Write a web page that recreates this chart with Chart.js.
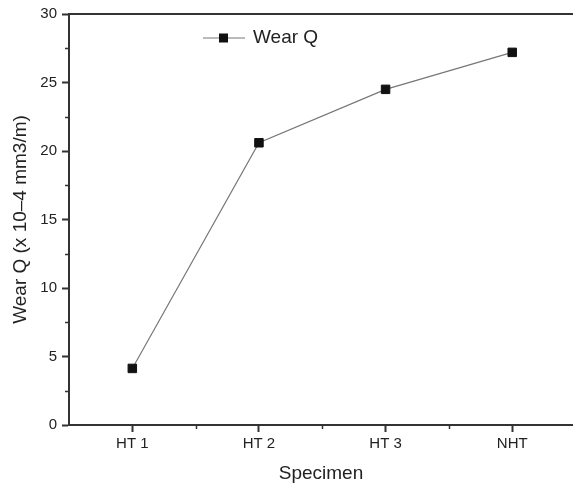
<!DOCTYPE html>
<html>
<head>
<meta charset="utf-8">
<script src="https://cdn.jsdelivr.net/npm/chart.js@4"></script>
<style>
  html, body { margin: 0; padding: 0; background: #fff; }
  #wrap { width: 573px; height: 488px; position: relative; }
</style>
</head>
<body>
<div id="wrap"><canvas id="wearChart"></canvas></div>
<script>
const specimens = ['HT 1', 'HT 2', 'HT 3', 'NHT'];
const wearQ = [4.13, 20.6, 24.5, 27.2];
const seriesName = 'Wear Q';

const axisColor = '#333';
const textColor = '#222';
const fontFamily = "'Liberation Sans', Arial, sans-serif";

const isMajorX = (v) => Number.isInteger(v) && v >= 1 && v <= specimens.length;
const isMajorY = (v) => v % 5 === 0;

// top frame line, short minor ticks and inline legend, like the Origin plot
const framePlugin = {
  id: 'frame',
  afterDraw(chart) {
    const { ctx, chartArea, scales } = chart;
    ctx.save();
    ctx.strokeStyle = axisColor;
    ctx.lineWidth = 2;
    ctx.beginPath();
    ctx.moveTo(chartArea.left, chartArea.top);
    ctx.lineTo(chartArea.right, chartArea.top);
    ctx.stroke();

    ctx.lineWidth = 1.5;
    ctx.beginPath();
    scales.x.ticks.forEach((t) => {
      if (isMajorX(t.value) || t.value <= 0.5 || t.value > 4.4) return;
      const px = Math.round(scales.x.getPixelForValue(t.value)) + 0.5;
      ctx.moveTo(px, chartArea.bottom);
      ctx.lineTo(px, chartArea.bottom + 4);
    });
    scales.y.ticks.forEach((t) => {
      if (isMajorY(t.value)) return;
      const py = Math.round(scales.y.getPixelForValue(t.value)) + 0.5;
      ctx.moveTo(chartArea.left, py);
      ctx.lineTo(chartArea.left - 4, py);
    });
    ctx.stroke();

    // legend
    const ly = 38;
    ctx.strokeStyle = '#777';
    ctx.lineWidth = 1.2;
    ctx.beginPath();
    ctx.moveTo(203, ly);
    ctx.lineTo(245, ly);
    ctx.stroke();
    ctx.fillStyle = '#111';
    ctx.fillRect(219, ly - 4.5, 9, 9);
    ctx.fillStyle = textColor;
    ctx.font = '19px ' + fontFamily;
    ctx.textBaseline = 'middle';
    ctx.fillText(seriesName, 253, ly);
    ctx.restore();
  },
};

const points = wearQ.map((v, i) => ({ x: i + 1, y: v }));

new Chart(document.getElementById('wearChart'), {
  type: 'scatter',
  data: {
    datasets: [{
      label: seriesName,
      data: points,
      showLine: true,
      borderColor: '#777',
      borderWidth: 1.2,
      pointStyle: 'rect',
      pointRadius: 6,
      pointBackgroundColor: '#111',
      pointBorderColor: '#111',
      pointBorderWidth: 1,
    }],
  },
  options: {
    responsive: true,
    maintainAspectRatio: false,
    animation: false,
    layout: { autoPadding: false, padding: { top: 13, right: 0, left: 0, bottom: 0 } },
    plugins: {
      legend: { display: false },
      tooltip: { enabled: false },
    },
    scales: {
      x: {
        type: 'linear',
        min: 0.5,
        max: 4.48,
        afterFit: (scale) => {
          scale.height = 63;
          scale.paddingRight = 0;
          scale.paddingLeft = 0;
        },
        border: { color: axisColor, width: 2 },
        grid: {
          drawOnChartArea: false,
          tickLength: 7,
          tickColor: (c) => (c.tick && isMajorX(c.tick.value) ? axisColor : 'rgba(0,0,0,0)'),
          tickWidth: 2,
        },
        ticks: {
          stepSize: 0.5,
          autoSkip: false,
          maxRotation: 0,
          padding: 3,
          color: textColor,
          font: { family: fontFamily, size: 15 },
          callback: (v) => (isMajorX(v) ? specimens[v - 1] : ''),
        },
        title: {
          display: true,
          text: 'Specimen',
          color: textColor,
          font: { family: fontFamily, size: 19 },
          padding: { top: 0, bottom: 3 },
        },
      },
      y: {
        min: 0,
        max: 30,
        afterFit: (scale) => { scale.width = 69; },
        border: { color: axisColor, width: 2 },
        grid: {
          drawOnChartArea: false,
          tickLength: 7,
          tickColor: (c) => (c.tick && isMajorY(c.tick.value) ? axisColor : 'rgba(0,0,0,0)'),
          tickWidth: 2,
        },
        ticks: {
          stepSize: 2.5,
          autoSkip: false,
          padding: 5,
          color: textColor,
          font: { family: fontFamily, size: 15 },
          callback: (v) => (isMajorY(v) ? v : ''),
        },
        title: {
          display: true,
          text: 'Wear Q (x 10\u20134 mm3/m)',
          color: textColor,
          font: { family: fontFamily, size: 19 },
          padding: { top: 9, bottom: 0 },
        },
      },
    },
  },
  plugins: [framePlugin],
});
</script>
</body>
</html>
